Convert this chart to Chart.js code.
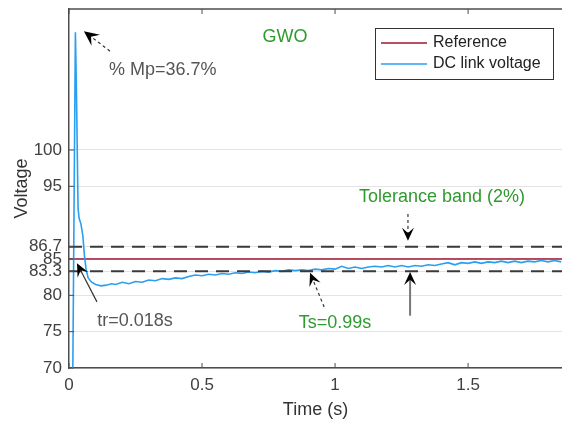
<!DOCTYPE html>
<html>
<head>
<meta charset="utf-8">
<script src="https://cdn.jsdelivr.net/npm/chart.js@4.4.1/dist/chart.umd.min.js"></script>
<style>
  html, body { margin: 0; padding: 0; background: #fff; }
  #wrap { width: 562px; height: 421px; }
</style>
</head>
<body>
<div id="wrap"><canvas id="voltChart" width="562" height="421"></canvas></div>
<script>
// DC link voltage response (GWO)
const timeS = [0, 0.024, 0.028, 0.031, 0.034, 0.038, 0.045, 0.052, 0.058, 0.064, 0.072, 0.085, 0.10, 0.12, 0.14, 0.16,
  0.175, 0.2, 0.225, 0.25, 0.275, 0.3, 0.325, 0.35, 0.375, 0.4, 0.425, 0.45, 0.475, 0.5, 0.525, 0.55, 0.575, 0.6,
  0.625, 0.65, 0.675, 0.7, 0.725, 0.75, 0.775, 0.8, 0.825, 0.85, 0.875, 0.9, 0.925, 0.95, 0.975, 1.0, 1.025, 1.05,
  1.075, 1.1, 1.125, 1.15, 1.175, 1.2, 1.225, 1.25, 1.275, 1.3, 1.325, 1.35, 1.375, 1.4, 1.425, 1.45, 1.475, 1.5,
  1.525, 1.55, 1.575, 1.6, 1.625, 1.65, 1.675, 1.7, 1.725, 1.75, 1.775, 1.8, 1.825, 1.85];
const dcVoltage = [0, 116.2, 108, 100, 92, 90.6, 89.8, 88.2, 85.5, 83.6, 82.4, 81.8, 81.5, 81.3, 81.4, 81.6,
  81.5, 81.8, 81.6, 81.9, 81.8, 82.1, 82.0, 82.3, 82.2, 82.4, 82.3, 82.6, 82.8, 82.7, 82.9, 82.8, 83.0, 82.9,
  83.1, 83.0, 83.2, 83.1, 83.3, 83.2, 83.4, 83.3, 83.5, 83.4, 83.5, 83.4, 83.6, 83.5, 83.7, 83.6, 84.0, 83.7,
  83.9, 83.7, 83.9, 84.0, 83.9, 84.1, 83.9, 84.1, 83.9, 84.1, 84.0, 84.2, 84.1, 84.3, 84.5, 84.2, 84.5, 84.4,
  84.6, 84.4, 84.6, 84.5, 84.7, 84.5, 84.7, 84.5, 84.7, 84.6, 84.8, 84.6, 84.8, 84.6];

const refTime = [0, 1.853];
const refVoltage = [85, 85];
const bandUpper = [86.7, 86.7];
const bandLower = [83.3, 83.3];

const xTicks = [0, 0.5, 1, 1.5];
const yTicks = [70, 75, 80, 83.3, 85, 86.7, 95, 100];

const toPoints = (xs, ys) => xs.map((x, i) => ({ x: x, y: ys[i] }));

const FONT = '"Liberation Sans", Arial, sans-serif';
const GREEN = '#2f9a2f';

function drawArrow(ctx, x0, y0, x1, y1, o) {
    const ang = Math.atan2(y1 - y0, x1 - x0);
    const L = o.head || 13, W = o.half || 6;
    ctx.save();
    ctx.strokeStyle = o.shaft || '#333';
    ctx.lineWidth = o.lw || 1.2;
    ctx.setLineDash(o.dash || []);
    ctx.beginPath();
    ctx.moveTo(x0, y0);
    ctx.lineTo(x1 - Math.cos(ang) * L * 0.6, y1 - Math.sin(ang) * L * 0.6);
    ctx.stroke();
    ctx.setLineDash([]);
    ctx.translate(x1, y1);
    ctx.rotate(ang);
    ctx.fillStyle = '#000';
    ctx.beginPath();
    ctx.moveTo(0, 0);
    ctx.lineTo(-L, -W);
    ctx.lineTo(-L * 0.6, 0);
    ctx.lineTo(-L, W);
    ctx.closePath();
    ctx.fill();
    ctx.restore();
}

// frame, inward ticks, annotations and legend in the MATLAB style
const figureExtras = {
    id: 'figureExtras',
    afterDraw(chart) {
        const ctx = chart.ctx;
        const a = chart.chartArea;
        const xs = chart.scales.x, ys = chart.scales.y;
        const px = v => xs.getPixelForValue(v);
        const py = v => ys.getPixelForValue(v);

        ctx.save();
        // top border
        ctx.strokeStyle = '#4d4d4d';
        ctx.lineWidth = 1.5;
        ctx.beginPath();
        ctx.moveTo(a.left, a.top);
        ctx.lineTo(a.right, a.top);
        ctx.stroke();
        // inward ticks
        ctx.lineWidth = 1;
        ctx.beginPath();
        xTicks.forEach(t => {
            const x = px(t);
            ctx.moveTo(x, a.bottom); ctx.lineTo(x, a.bottom - 5);
            ctx.moveTo(x, a.top); ctx.lineTo(x, a.top + 5);
        });
        yTicks.forEach(t => {
            const y = py(t);
            ctx.moveTo(a.left, y); ctx.lineTo(a.left + 5, y);
        });
        ctx.stroke();

        // texts
        ctx.textBaseline = 'middle';
        ctx.font = '18px ' + FONT;
        ctx.fillStyle = GREEN;
        ctx.textAlign = 'center';
        ctx.fillText('GWO', px(0.812), py(115.5));
        ctx.fillText('Tolerance band (2%)', px(1.402), py(93.5));
        ctx.fillText('Ts=0.99s', px(1.0), py(76.2));
        ctx.fillStyle = '#555';
        ctx.fillText('tr=0.018s', px(0.248), py(76.5));
        ctx.textAlign = 'left';
        ctx.fillText('% Mp=36.7%', px(0.15), py(111));

        // arrows
        drawArrow(ctx, px(0.154), py(113.6), px(0.056), py(116.35), { dash: [3, 3], head: 15, half: 7 });
        drawArrow(ctx, px(1.274), py(91.2), px(1.274), py(87.5), { dash: [3, 3] });
        drawArrow(ctx, px(1.282), py(77.2), px(1.282), py(83.2), { shaft: '#777', lw: 2 });
        drawArrow(ctx, px(0.959), py(78.4), px(0.906), py(83.1), { dash: [3, 3] });
        drawArrow(ctx, px(0.105), py(79.1), px(0.03), py(84.4), { shaft: '#333' });

        // legend box
        const lx = a.right - 187, ly = a.top + 19, lw = 178, lh = 51;
        ctx.fillStyle = '#fff';
        ctx.fillRect(lx, ly, lw, lh);
        ctx.strokeStyle = '#333';
        ctx.lineWidth = 1;
        ctx.strokeRect(lx + 0.5, ly + 0.5, lw, lh);
        const items = chart.data.datasets.filter(d => d.inLegend);
        items.sort((p, q) => p.legendRank - q.legendRank);
        ctx.font = '16px ' + FONT;
        items.forEach((d, i) => {
            const y = ly + 15 + i * 21;
            ctx.strokeStyle = d.borderColor;
            ctx.lineWidth = 1.5;
            ctx.beginPath();
            ctx.moveTo(lx + 6, y);
            ctx.lineTo(lx + 52, y);
            ctx.stroke();
            ctx.fillStyle = '#222';
            ctx.textAlign = 'left';
            ctx.fillText(d.label, lx + 58, y);
        });
        ctx.restore();
    }
};

const chartData = {
    datasets: [
        {
            label: 'Upper band',
            data: toPoints(refTime, bandUpper),
            borderColor: '#3a3a3a',
            borderWidth: 2,
            borderDash: [13, 8]
        },
        {
            label: 'Lower band',
            data: toPoints(refTime, bandLower),
            borderColor: '#3a3a3a',
            borderWidth: 2,
            borderDash: [13, 8]
        },
        {
            label: 'DC link voltage',
            data: toPoints(timeS, dcVoltage),
            borderColor: '#2a9ff0',
            borderWidth: 1.6,
            inLegend: true,
            legendRank: 2
        },
        {
            label: 'Reference',
            data: toPoints(refTime, refVoltage),
            borderColor: '#a2142f',
            borderWidth: 1.5,
            inLegend: true,
            legendRank: 1
        }
    ]
};

new Chart(document.getElementById('voltChart').getContext('2d'), {
    type: 'line',
    data: chartData,
    plugins: [figureExtras],
    options: {
        responsive: false,
        animation: false,
        layout: { padding: { top: 9, right: 0, left: 0, bottom: 0 } },
        elements: { point: { radius: 0 }, line: { tension: 0 } },
        plugins: { legend: { display: false }, tooltip: { enabled: false } },
        scales: {
            x: {
                type: 'linear',
                min: 0,
                max: 1.853,
                afterBuildTicks: s => { s.ticks = xTicks.map(v => ({ value: v })); },
                afterFit: s => { s.height = 53; s.paddingLeft = 0; s.paddingRight = 0; },
                grid: { color: 'transparent', drawTicks: false },
                border: { display: true, color: '#4d4d4d', width: 1.5 },
                ticks: {
                    color: '#404040',
                    font: { family: FONT, size: 17 },
                    padding: 7,
                    autoSkip: false,
                    maxRotation: 0,
                    callback: v => String(v)
                },
                title: {
                    display: true,
                    text: 'Time (s)',
                    color: '#333',
                    font: { family: FONT, size: 18 },
                    padding: { top: 0, bottom: 0 }
                }
            },
            y: {
                type: 'linear',
                min: 70,
                max: 119.4,
                afterBuildTicks: s => { s.ticks = yTicks.map(v => ({ value: v })); },
                afterFit: s => { s.width = 69; s.paddingTop = 0; s.paddingBottom = 0; },
                grid: { color: '#e3e3e3', lineWidth: 1, drawTicks: false },
                border: { display: true, color: '#4d4d4d', width: 1.5 },
                ticks: {
                    color: '#404040',
                    font: { family: FONT, size: 17 },
                    padding: 7,
                    autoSkip: false,
                    callback: v => String(v)
                },
                title: {
                    display: true,
                    text: 'Voltage',
                    color: '#333',
                    font: { family: FONT, size: 18 },
                    padding: { top: 11, bottom: 0 }
                }
            }
        }
    }
});
</script>
</body>
</html>
